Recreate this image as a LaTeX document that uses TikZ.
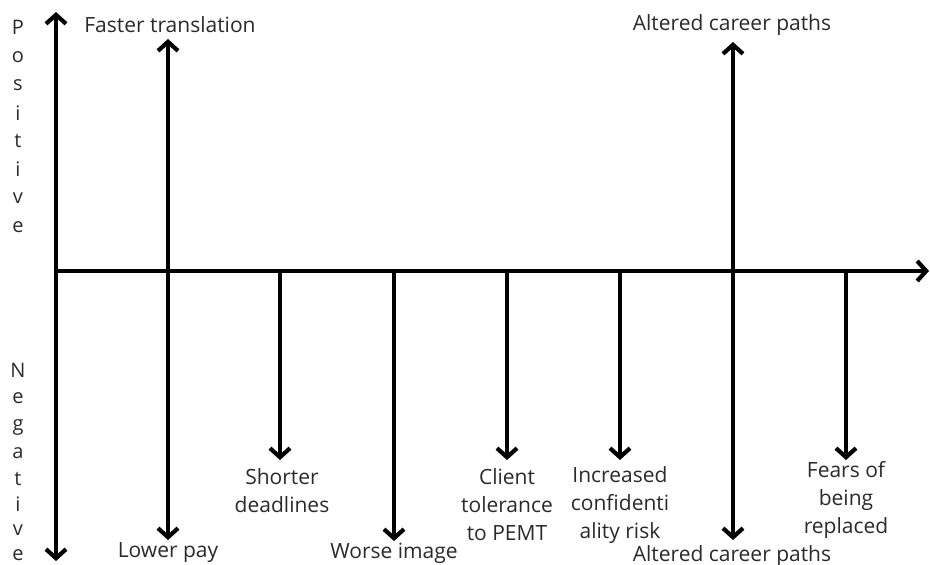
\documentclass[tikz,border=0pt]{standalone}
\usepackage{fontspec}
\setmainfont{Open Sans}
\usetikzlibrary{arrows.meta}
\definecolor{txt}{HTML}{2A2A2A}
\tikzset{
  ax/.style={line width=4.2pt, -{Straight Barb[length=9pt,width=20pt,line width=4.2pt]}},
  dax/.style={line width=4.2pt, {Straight Barb[length=9pt,width=20pt,line width=4.2pt]}-{Straight Barb[length=9pt,width=20pt,line width=4.2pt]}},
  lbl/.style={text=txt, font=\fontsize{21}{28}\selectfont, align=center, inner sep=0pt},
  letter/.style={text=txt, font=\fontsize{20}{20}\selectfont, inner sep=0pt}
}
\begin{document}
\begin{tikzpicture}[x=1pt,y=-1pt]
\useasboundingbox (0,0) rectangle (930,565);
% axes
\coordinate (vtop) at (56,12);
\coordinate (vbot) at (56,561);
\coordinate (o) at (56,271);
\coordinate (hend) at (929,271);
\draw[dax] (vbot) -- (vtop);
\draw[ax] (o) -- (hend);
% axis letters
\foreach \c/\y [count=\i] in {P/27,o/57,s/85,i/113,t/141,i/169,v/198,e/227}
  \node[letter] (p\i) at (18,\y) {\c};
\foreach \c/\y [count=\i] in {N/370,e/398,g/427,a/453,t/479,i/504,v/530,e/555}
  \node[letter] (n\i) at (18,\y) {\c};
% labels
\node[lbl] (faster) at (170,25) {Faster translation};
\node[lbl] (lower) at (168,553) {Lower pay};
\node[lbl] (shorter) at (282,491) {Shorter\\deadlines};
\node[lbl] (worse) at (394,553) {Worse image};
\node[lbl] (client) at (507,505) {Client\\tolerance\\to PEMT};
\node[lbl] (incr) at (620,505) {Increased\\confidenti\\ality risk};
\node[lbl] (altT) at (732,25) {Altered career paths};
\node[lbl] (altB) at (732,556) {Altered career paths};
\node[lbl] (fears) at (846,500) {Fears of\\being\\replaced};
% arrow points
\coordinate (a1t) at (168,39);  \coordinate (a1b) at (168,540);
\coordinate (a2s) at (280,271); \coordinate (a2b) at (280,460);
\coordinate (a3s) at (394,271); \coordinate (a3b) at (394,541);
\coordinate (a4s) at (507,271); \coordinate (a4b) at (507,460);
\coordinate (a5s) at (620,271); \coordinate (a5b) at (620,460);
\coordinate (a6t) at (733,42);  \coordinate (a6b) at (733,540);
\coordinate (a7s) at (846,271); \coordinate (a7b) at (846,460);
\draw[dax] (a1b) -- (a1t);
\draw[ax] (a2s) -- (a2b);
\draw[ax] (a3s) -- (a3b);
\draw[ax] (a4s) -- (a4b);
\draw[ax] (a5s) -- (a5b);
\draw[dax] (a6b) -- (a6t);
\draw[ax] (a7s) -- (a7b);
\end{tikzpicture}
\end{document}
